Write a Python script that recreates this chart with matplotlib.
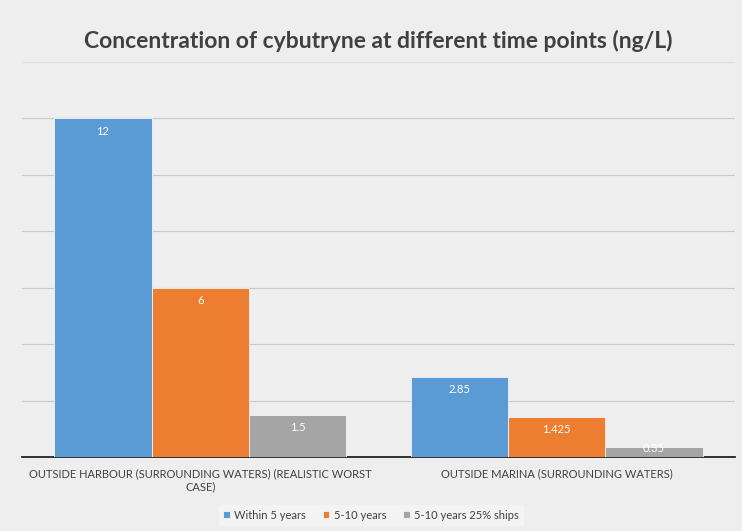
import matplotlib.pyplot as plt
import numpy as np

plt.rcParams['font.family'] = ['Liberation Sans Narrow', 'Lato', 'DejaVu Sans']

categories = ["OUTSIDE HARBOUR (SURROUNDING WATERS) (REALISTIC WORST\nCASE)",
              "OUTSIDE MARINA (SURROUNDING WATERS)"]
series_names = ["Within 5 years", "5-10 years", "5-10 years 25% ships"]
within_5 = [12, 2.85]
years_5_10 = [6, 1.425]
years_25pct = [1.5, 0.35]
colors = ["#5b9bd5", "#ed7d31", "#a5a5a5"]

fig = plt.figure(figsize=(7.42, 5.31), dpi=100)
fig.patch.set_facecolor("#eeeeee")
ax = fig.add_axes([0.0296, 0.1394, 0.9610, 0.7438])
ax.set_facecolor("#eeeeee")

x = np.arange(len(categories))
w = 0.273
for i, (vals, name, c) in enumerate(zip([within_5, years_5_10, years_25pct], series_names, colors)):
    bars = ax.bar(x + (i - 1) * w, vals, w, color=c, label=name, zorder=3,
                  edgecolor="#f4f4f4", linewidth=0.6)
    for b, v in zip(bars, vals):
        # label just inside the top of the bar; on very short bars it sits on the top edge
        ly = v - 0.45 if v > 1 else v * 0.9
        ax.text(b.get_x() + b.get_width() / 2, ly, f"{v:g}",
                ha="center", va="center", color="white", fontsize=8, zorder=4)

ax.set_xlim(-0.5, 1.5)
ax.set_ylim(0, 14)
ax.set_yticks(np.arange(0, 15, 2))
ax.yaxis.grid(True, color="#c8c8c8", linewidth=0.8, zorder=0)
ax.get_ygridlines()[-1].set_color("#e0e0e0")
ax.tick_params(axis="y", left=False, labelleft=False)
ax.tick_params(axis="x", bottom=False, pad=5)
ax.set_xticks(x)
ax.set_xticklabels(categories, fontsize=8, color="#404040", multialignment="center")
for s in ["left", "right", "top"]:
    ax.spines[s].set_visible(False)
ax.spines["bottom"].set_color("#222222")
ax.spines["bottom"].set_linewidth(1.3)

fig.suptitle("Concentration of cybutryne at different time points (ng/L)",
             x=0.51, y=0.943, fontsize=16.5, color="#404040", fontweight="bold")

leg = fig.legend(loc="center", bbox_to_anchor=(0.5, 0.03), ncol=3, frameon=True,
                 fontsize=8, handlelength=0.6, handleheight=0.6, columnspacing=1.5,
                 handletextpad=0.4, labelcolor="#404040")
leg.get_frame().set_facecolor("#f5f5f5")
leg.get_frame().set_edgecolor("#f5f5f5")

fig.savefig("out.png", dpi=100, facecolor=fig.get_facecolor())
